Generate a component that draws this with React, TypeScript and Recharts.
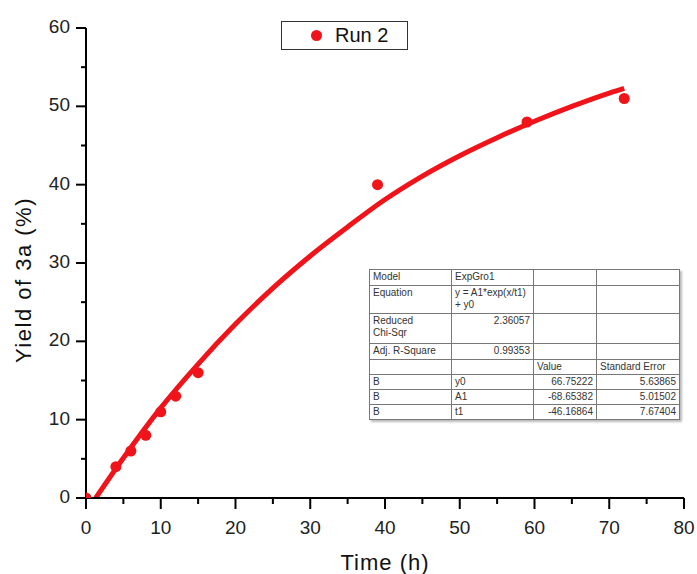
import { ComposedChart, Line, Scatter, XAxis, YAxis, Legend } from 'recharts'

const RED = '#f0141a'
const FONT = "'Liberation Sans', Arial, Helvetica, sans-serif"

// measured points (Run 2)
const timeH = [0, 4, 6, 8, 10, 12, 15, 39, 59, 72]
const yieldPct = [0, 4, 6, 8, 11, 13, 16, 40, 48, 51]

// fitted ExpGro1 curve
const fitTime = [1.3, 5, 10, 15, 20, 25, 30, 35, 40, 45, 50, 55, 60, 65, 70, 72]
const fitYield = [0, 5.1, 11.5, 17.1, 22.2, 26.8, 30.9, 34.6, 38.1, 41.1, 43.7, 46.0, 48.1, 50.0, 51.7, 52.3]

const xTicks = [0, 5, 10, 15, 20, 25, 30, 35, 40, 45, 50, 55, 60, 65, 70, 75, 80]
const yTicks = [0, 5, 10, 15, 20, 25, 30, 35, 40, 45, 50, 55, 60]

const seriesName = 'Run 2'
const xTitle = 'Time (h)'
const yTitle = 'Yield of 3a (%)'

// fit report table
const fitInfoRows = [
  ['Model', 'ExpGro1', '', ''],
  ['Equation', 'y = A1*exp(x/t1)\n + y0', '', ''],
  ['Reduced\nChi-Sqr', '2.36057', '', ''],
  ['Adj. R-Square', '0.99353', '', ''],
  ['', '', 'Value', 'Standard Error'],
]
const paramRows = [
  ['B', 'y0', '66.75222', '5.63865'],
  ['B', 'A1', '-68.65382', '5.01502'],
  ['B', 't1', '-46.16864', '7.67404'],
]

const points = timeH.map((t, i) => ({ x: t, y: yieldPct[i] }))
const fit = fitTime.map((t, i) => ({ x: t, y: fitYield[i] }))

function XTick({ x, y, payload }: any) {
  const major = payload.value % 10 === 0
  return (
    <g>
      <line x1={x} x2={x} y1={y} y2={y + (major ? 11 : 6)} stroke="#000" strokeWidth={2} />
      {major && (
        <text x={x} y={y + 36} textAnchor="middle" fontSize={19} fill="#222" fontFamily={FONT}>
          {payload.value}
        </text>
      )}
    </g>
  )
}

function YTick({ x, y, payload }: any) {
  const major = payload.value % 10 === 0
  return (
    <g>
      <line x1={x - (major ? 10 : 5)} x2={x} y1={y} y2={y} stroke="#000" strokeWidth={2} />
      {major && (
        <text x={x - 16} y={y + 5} textAnchor="end" fontSize={19} fill="#222" fontFamily={FONT}>
          {payload.value}
        </text>
      )}
    </g>
  )
}

function LegendBox() {
  return (
    <div
      style={{
        boxSizing: 'border-box',
        width: 127,
        height: 29,
        border: '1px solid #333',
        background: '#fff',
        display: 'flex',
        alignItems: 'center',
        fontFamily: FONT,
        fontSize: 20,
        color: '#111',
      }}
    >
      <span
        style={{ width: 11, height: 11, borderRadius: '50%', background: RED, marginLeft: 29, marginRight: 13 }}
      />
      <span>{seriesName}</span>
    </div>
  )
}

const cellBase: React.CSSProperties = {
  border: '1px solid #777',
  padding: '1px 3px',
  verticalAlign: 'top',
  whiteSpace: 'pre-line',
  lineHeight: '12px',
}

function isNum(s: string) {
  return /^-?\d/.test(s)
}

function FitTable() {
  const heights = [16, 28, 30, 16, 15]
  const widths = [82, 82, 63, 83]
  return (
    <table
      style={{
        position: 'absolute',
        left: 369,
        top: 269,
        borderCollapse: 'collapse',
        fontFamily: FONT,
        fontSize: 10,
        color: '#333',
        background: '#fff',
        boxShadow: '2px 2px 2px #bbb',
        tableLayout: 'fixed',
      }}
    >
      <colgroup>
        {widths.map((w, i) => (
          <col key={i} style={{ width: w }} />
        ))}
      </colgroup>
      <tbody>
        {fitInfoRows.map((row, r) => (
          <tr key={r} style={{ height: heights[r] }}>
            {row.map((c, i) => (
              <td key={i} style={{ ...cellBase, textAlign: isNum(c) ? 'right' : 'left' }}>
                {c}
              </td>
            ))}
          </tr>
        ))}
        {paramRows.map((row, r) => (
          <tr key={'p' + r} style={{ height: 15 }}>
            {row.map((c, i) => (
              <td key={i} style={{ ...cellBase, textAlign: i >= 2 ? 'right' : 'left' }}>
                {c}
              </td>
            ))}
          </tr>
        ))}
      </tbody>
    </table>
  )
}

export default function App() {
  return (
    <div style={{ position: 'absolute', left: 0, top: 0, width: 697, height: 574, background: '#fff' }}>
      <ComposedChart width={697} height={574} margin={{ top: 28, right: 13, bottom: 0, left: 0 }}>
        <XAxis
          type="number"
          dataKey="x"
          domain={[0, 80]}
          allowDataOverflow
          ticks={xTicks}
          interval={0}
          height={76}
          tickSize={0}
          tickMargin={0}
          tick={<XTick />}
          tickLine={false}
          axisLine={{ stroke: '#000', strokeWidth: 2 }}
          label={(p: any) => {
            const vb = p.viewBox
            return (
              <text
                x={vb.x + vb.width / 2}
                y={vb.y + 72}
                textAnchor="middle"
                fontSize={22}
                letterSpacing={1}
                fill="#111"
                fontFamily={FONT}
              >
                {xTitle}
              </text>
            )
          }}
        />
        <YAxis
          type="number"
          dataKey="y"
          domain={[0, 60]}
          allowDataOverflow
          ticks={yTicks}
          interval={0}
          width={86}
          tickSize={0}
          tickMargin={0}
          tick={<YTick />}
          tickLine={false}
          axisLine={{ stroke: '#000', strokeWidth: 2 }}
          label={(p: any) => {
            const vb = p.viewBox
            const cx = vb.x + 23
            const cy = 280
            return (
              <text
                x={cx}
                y={cy}
                transform={`rotate(-90, ${cx}, ${cy})`}
                textAnchor="middle"
                dominantBaseline="central"
                fontSize={22}
                letterSpacing={1.5}
                fill="#111"
                fontFamily={FONT}
              >
                {yTitle}
              </text>
            )
          }}
        />
        <Legend
          layout="horizontal"
          verticalAlign="middle"
          align="center"
          content={() => <LegendBox />}
          wrapperStyle={{ position: 'absolute', left: 281, top: 21, width: 127, height: 29 }}
        />
        <Line
          data={fit}
          dataKey="y"
          type="monotone"
          stroke={RED}
          strokeWidth={5}
          dot={false}
          activeDot={false}
          isAnimationActive={false}
        />
        <Scatter
          name={seriesName}
          data={points}
          dataKey="y"
          fill={RED}
          isAnimationActive={false}
          shape={(p: any) => <circle cx={p.cx} cy={p.cy} r={5.5} fill={RED} />}
        />
      </ComposedChart>
      <FitTable />
    </div>
  )
}
